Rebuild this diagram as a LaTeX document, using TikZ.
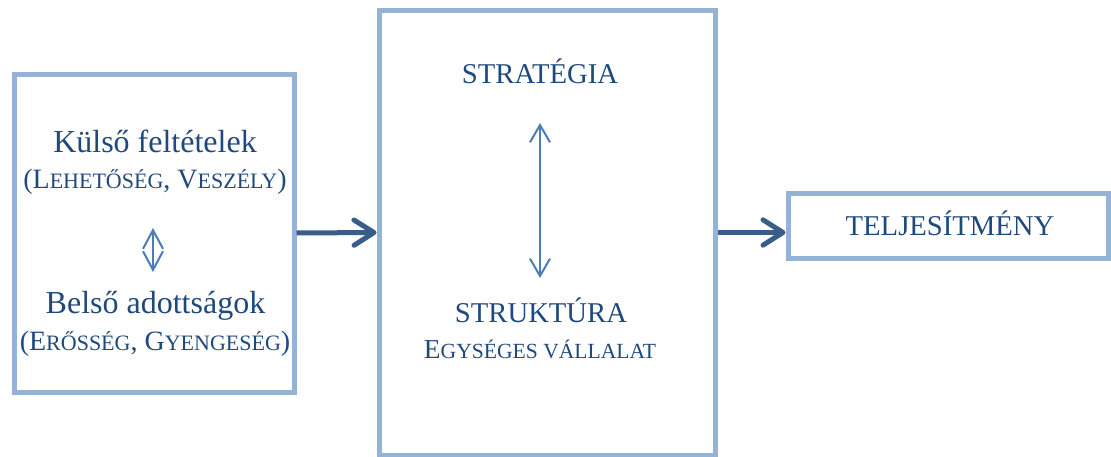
\documentclass[tikz,border=0pt]{standalone}
\usepackage{fontspec}
\setmainfont{Liberation Serif}
\usetikzlibrary{arrows.meta}
\definecolor{boxc}{HTML}{95B3D7}
\definecolor{txtc}{HTML}{1F497D}
\definecolor{arrc}{HTML}{385D8A}
\definecolor{inarr}{HTML}{4A7EBB}
\newcommand\lowsz{\fontsize{24pt}{28pt}\selectfont}
\newcommand\capA{\fontsize{21pt}{24pt}\selectfont}
\newcommand\smA[1]{{\fontsize{16.5pt}{20pt}\selectfont #1}}
\newcommand\capB{\fontsize{21.5pt}{24pt}\selectfont}
\newcommand\capC{\fontsize{20.5pt}{24pt}\selectfont}
\newcommand\smC[1]{{\fontsize{16.2pt}{20pt}\selectfont #1}}
\begin{document}
\begin{tikzpicture}[x=0.75pt,y=-0.75pt,
  box/.style={draw=boxc, line width=3.75pt, fill=none, inner sep=0pt},
  txt/.style={text=txtc, anchor=base, inner sep=0pt},
  thick/.style={draw=arrc, line width=3.75pt, -{Straight Barb[length=15pt,width=19pt,round]}},
  thin/.style={draw=inarr, line width=1.5pt, {Straight Barb[length=13pt,width=15pt]}-{Straight Barb[length=13pt,width=15pt]}},
  thinsm/.style={draw=inarr, line width=1.5pt, {Straight Barb[length=14pt,width=15pt]}-{Straight Barb[length=14pt,width=15pt]}}]
\useasboundingbox (0,0) rectangle (1111,457);
% boxes
\node[box, minimum width=210pt, minimum height=238.5pt] (b1) at (154,233) {};
\node[box, minimum width=252pt, minimum height=333.75pt] (b2) at (547,232.5) {};
\node[box, minimum width=240pt, minimum height=48.75pt] (b3) at (948,225.5) {};
% texts box 1
\node[txt] (t1) at (155,152) {\lowsz Külső feltételek};
\node[txt] (t2) at (155,188) {\capA (L\smA{EHETŐSÉG}, V\smA{ESZÉLY})};
\node[txt] (t3) at (155.5,313) {\lowsz Belső adottságok};
\node[txt] (t4) at (155,350) {\capA (E\smA{RŐSSÉG}, G\smA{YENGESÉG})};
% texts box 2
\node[txt] (s1) at (540,83) {\capB STRATÉGIA};
\node[txt] (s2) at (541,322) {\capB STRUKTÚRA};
\node[txt] (s3) at (540,358) {\capC E\smC{GYSÉGES VÁLLALAT}};
% text box 3
\node[txt] (p1) at (950,235) {\capB TELJESÍTMÉNY};
% inner arrows
\coordinate (a1) at (153,228);
\coordinate (a2) at (153,272);
\coordinate (c1) at (540,123);
\coordinate (c2) at (540,278);
\draw[thinsm] (a1) -- (a2);
\draw[thin] (c1) -- (c2);
% main arrows
\draw[thick] (b1.east) -- (b2.west);
\draw[thick] (b2.east) -- (b3.west |- b2.east);
\end{tikzpicture}
\end{document}
